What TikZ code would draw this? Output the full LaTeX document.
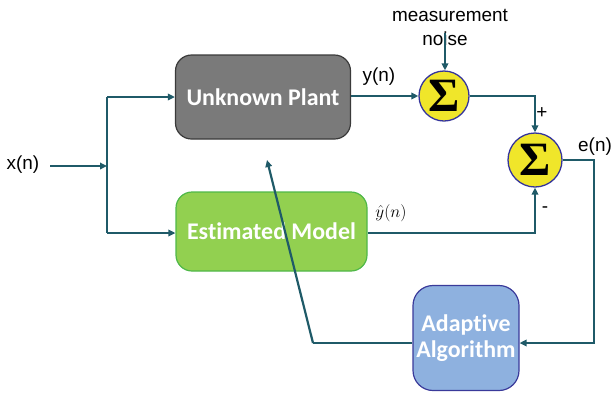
\documentclass[tikz,border=0pt]{standalone}
\usepackage{fontspec}
\setmainfont{Liberation Sans}
\newfontfamily\boxfont[Ligatures=NoCommon]{Carlito}
\newfontfamily\sigfont{Liberation Serif}
\usetikzlibrary{arrows.meta}
\definecolor{wire}{HTML}{1F5A68}
\definecolor{plantfill}{HTML}{7A7A7A}
\definecolor{plantdraw}{HTML}{3A3A3A}
\definecolor{estfill}{HTML}{92D050}
\definecolor{estdraw}{HTML}{4FB848}
\definecolor{adfill}{HTML}{8EB1DF}
\definecolor{addraw}{HTML}{3A3A9A}
\definecolor{sigfill}{HTML}{F0E62A}
\definecolor{sigdraw}{HTML}{34349C}
\tikzset{
  blockbox/.style={rounded corners=16bp, line width=1.2bp, text=white,
    font=\boxfont\bfseries\fontsize{24}{28}\selectfont, align=center, inner sep=0pt},
  sumnode/.style={circle, fill=sigfill, draw=sigdraw, line width=1.3bp,
    minimum size=50bp, inner sep=0pt, font=\sigfont\bfseries\fontsize{48}{48}\selectfont},
  wireline/.style={draw=wire, line width=2.2bp},
  arr/.style={wireline, -{Triangle[length=7bp,width=6.5bp]}},
  lbl/.style={font=\fontsize{19}{21}\selectfont, inner sep=0pt}
}
\begin{document}
\begin{tikzpicture}[x=1bp,y=-1bp]
\useasboundingbox (0,0) rectangle (613,393);
% blocks
\node[blockbox, fill=plantfill, draw=plantdraw, minimum width=175bp, minimum height=84bp]
  (plant) at (263,97) {Unknown Plant};
\node[blockbox, fill=estfill, draw=estdraw, minimum width=191bp, minimum height=79bp]
  (est) at (271.5,231.5) {Estimated Model};
\node[blockbox, fill=adfill, draw=addraw, minimum width=106bp, minimum height=105bp, rounded corners=20bp]
  (adapt) at (466,338) {Adaptive\\[-2bp]Algorithm};
% sums
\node[sumnode] (s1) at (444,96) {Σ};
\node[sumnode, minimum size=54bp] (s2) at (535,160) {Σ};
% labels
\node[lbl] (xn) at (23,165) {x(n)};
\node[lbl] (yn) at (379,77) {y(n)};
\node[lbl] (en) at (595,147) {e(n)};
\node[lbl] (meas) at (450,15) {measurement};
\node[lbl] (noise) at (445,39) {noise};
\node[font=\fontsize{18}{18}\selectfont, inner sep=0pt] (yhat) at (391,213) {$\hat{y}(n)$};
\node[lbl] (plus) at (542,113) {+};
\node[lbl] (minus) at (545,210) {-};
% coordinates
\coordinate (xs) at (50,166);
\coordinate (split) at (107,166);
\coordinate (ntop) at (445,33);
\coordinate (fbend) at (313,343);
\coordinate (ftip) at (267,160);
% wires
\draw[arr] (xs) -- (split);
\draw[wireline] (107,97) -- (107,233);
\draw[arr] (107,97) -- (plant.west |- 107,97);
\draw[arr] (107,233) -- (est.west |- 107,233);
\draw[arr] (plant.east |- s1.west) -- (s1.west);
\draw[arr] (ntop) -- (ntop |- s1.north);
\draw[arr] (s1.east) -| (s2.north);
\draw[arr] (est.east |- 0,233) -| (s2.south);
\draw[arr] (s2.east) -| (594,343) -- (adapt.east |- 0,343);
\draw[wireline] (adapt.west |- 0,343) -- (fbend);
\draw[arr] (fbend) -- (ftip);
\end{tikzpicture}
\end{document}
